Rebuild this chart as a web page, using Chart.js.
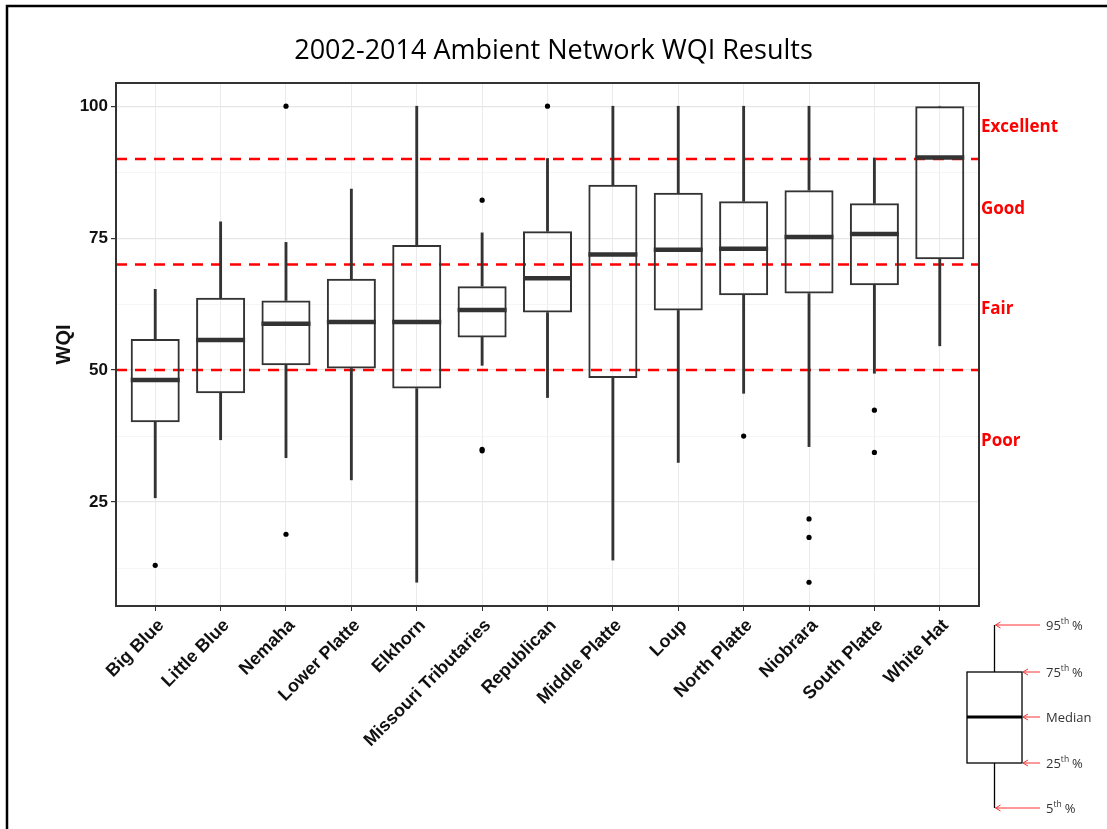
<!DOCTYPE html>
<html>
<head>
<meta charset="utf-8">
<script src="https://cdn.jsdelivr.net/npm/chart.js@4.4.1/dist/chart.umd.min.js"></script>
<style>
  html, body { margin: 0; padding: 0; background: #fff; }
  canvas { display: block; }
</style>
</head>
<body>
<canvas id="wqiChart" width="1107" height="829"></canvas>
<script>
const categories = ['Big Blue', 'Little Blue', 'Nemaha', 'Lower Platte', 'Elkhorn', 'Missouri Tributaries',
  'Republican', 'Middle Platte', 'Loup', 'North Platte', 'Niobrara', 'South Platte', 'White Hat'];

// box plot stats
const whiskerLow = [25.8, 36.8, 33.4, 29.2, 9.8, 50.9, 44.8, 14.0, 32.5, 45.6, 35.5, 49.4, 54.6];
const q1 = [40.1, 45.6, 50.9, 50.3, 46.5, 56.2, 60.9, 48.5, 61.3, 64.2, 64.5, 66.1, 71.0];
const medians = [48.1, 55.7, 58.8, 59.1, 59.1, 61.4, 67.4, 71.9, 72.8, 73.0, 75.2, 75.8, 90.3];
const q3 = [55.9, 63.7, 63.2, 67.3, 73.7, 65.9, 76.3, 85.1, 83.6, 82.0, 84.1, 81.6, 100];
const whiskerHigh = [65.3, 78.1, 74.2, 84.3, 100, 76.0, 90.1, 100, 100, 100, 100, 90.2, 100];

// outliers: category index + value
const outlierCat = [0, 2, 2, 5, 5, 5, 6, 9, 10, 10, 10, 11, 11];
const outlierVal = [13.0, 100, 18.9, 82.2, 35.0, 34.7, 100, 37.5, 21.8, 18.3, 9.8, 42.4, 34.4];

const yTicks = [12.5, 25, 37.5, 50, 62.5, 75, 87.5, 100];
const thresholds = [50, 70, 90];
const classNames = ['Excellent', 'Good', 'Fair', 'Poor'];
const classPos = [96, 80.5, 61.5, 36.5];
const legendNames = ['95th %', '75th %', 'Median', '25th %', '5th %'];

const boxColor = '#333333';
const catX = categories.map((c, i) => i + 1);

const decorations = {
  id: 'decorations',
  beforeDatasetsDraw(chart) {
    const {ctx, chartArea: a, scales: {y}} = chart;
    ctx.save();
    ctx.beginPath();
    ctx.rect(a.left, a.top, a.right - a.left, a.bottom - a.top);
    ctx.clip();
    ctx.strokeStyle = '#ff0000';
    ctx.lineWidth = 2.5;
    ctx.setLineDash([11, 8]);
    thresholds.forEach(v => {
      const py = y.getPixelForValue(v);
      ctx.beginPath();
      ctx.moveTo(a.left, py);
      ctx.lineTo(a.right, py);
      ctx.stroke();
    });
    ctx.restore();
  },
  afterDatasetsDraw(chart) {
    const {ctx, chartArea: a} = chart;
    ctx.save();
    ctx.strokeStyle = '#333';
    ctx.lineWidth = 2;
    ctx.strokeRect(a.left, a.top, a.right - a.left, a.bottom - a.top);
    ctx.restore();
  },
  afterDraw(chart) {
    const {ctx, chartArea: a, scales: {y}} = chart;
    ctx.save();
    // outer frame
    ctx.strokeStyle = '#000';
    ctx.lineWidth = 2.5;
    ctx.beginPath();
    ctx.moveTo(7, chart.height);
    ctx.lineTo(7, 6);
    ctx.lineTo(chart.width, 6);
    ctx.stroke();

    // class labels on the right
    ctx.fillStyle = '#ff0000';
    ctx.font = 'bold 17px "Open Sans"';
    ctx.textBaseline = 'middle';
    ctx.textAlign = 'left';
    classNames.forEach((t, i) => ctx.fillText(t, a.right + 2, y.getPixelForValue(classPos[i])));

    // box plot key
    const bx = a.right - 12, bw = 55, cx = bx + bw / 2;
    const ys = [a.bottom + 19, a.bottom + 66, a.bottom + 111, a.bottom + 157, a.bottom + 202];
    ctx.strokeStyle = '#000';
    ctx.lineWidth = 1.3;
    ctx.beginPath();
    ctx.moveTo(cx, ys[0]); ctx.lineTo(cx, ys[1]);
    ctx.moveTo(cx, ys[3]); ctx.lineTo(cx, ys[4]);
    ctx.stroke();
    ctx.strokeRect(bx, ys[1], bw, ys[3] - ys[1]);
    ctx.lineWidth = 3;
    ctx.beginPath();
    ctx.moveTo(bx, ys[2]); ctx.lineTo(bx + bw, ys[2]);
    ctx.stroke();

    ctx.strokeStyle = '#ff3030';
    ctx.lineWidth = 1;
    const tipX = [cx + 1, bx + bw + 1, bx + bw + 1, bx + bw + 1, cx + 1];
    ys.forEach((py, i) => {
      ctx.beginPath();
      ctx.moveTo(a.right + 61, py);
      ctx.lineTo(tipX[i], py);
      ctx.moveTo(tipX[i] + 5, py - 3);
      ctx.lineTo(tipX[i], py);
      ctx.lineTo(tipX[i] + 5, py + 3);
      ctx.stroke();
    });

    ctx.fillStyle = '#333';
    ctx.textAlign = 'left';
    ctx.textBaseline = 'middle';
    legendNames.forEach((t, i) => {
      const tx = a.right + 67;
      const m = t.match(/^(\d+)th (%)$/);
      if (m) {
        ctx.font = '13px "Open Sans"';
        ctx.fillText(m[1], tx, ys[i] + 1);
        let w = ctx.measureText(m[1]).width;
        ctx.font = '8.5px "Open Sans"';
        ctx.fillText('th', tx + w, ys[i] - 3);
        w += ctx.measureText('th').width + 3;
        ctx.font = '13px "Open Sans"';
        ctx.fillText(m[2], tx + w, ys[i] + 1);
      } else {
        ctx.font = '13px "Open Sans"';
        ctx.fillText(t, tx, ys[i] + 1);
      }
    });
    ctx.restore();
  }
};

const ctx = document.getElementById('wqiChart').getContext('2d');

new Chart(ctx, {
  type: 'bar',
  data: {
    datasets: [
      {
        type: 'line',
        label: 'outliers',
        data: outlierCat.map((c, i) => ({x: c + 1, y: outlierVal[i]})),
        showLine: false,
        pointRadius: 2.6,
        pointBackgroundColor: '#000',
        pointBorderWidth: 0,
        order: 0
      },
      {
        type: 'line',
        label: 'median',
        data: catX.map((x, i) => ({x: x, y: medians[i]})),
        showLine: false,
        pointStyle: 'line',
        pointRadius: 24.5,
        pointBorderWidth: 4.5,
        pointBorderColor: boxColor,
        order: 1
      },
      {
        label: 'box',
        data: catX.map((x, i) => ({x: x, y: [q1[i], q3[i]]})),
        backgroundColor: 'rgba(255,255,255,0)',
        borderColor: boxColor,
        borderWidth: 2,
        borderSkipped: false,
        barPercentage: 0.75,
        categoryPercentage: 1,
        grouped: false,
        order: 2
      },
      {
        label: 'upper whisker',
        data: catX.map((x, i) => ({x: x, y: [q3[i], whiskerHigh[i]]})),
        backgroundColor: boxColor,
        borderWidth: 0,
        barThickness: 2.2,
        grouped: false,
        order: 3
      },
      {
        label: 'lower whisker',
        data: catX.map((x, i) => ({x: x, y: [whiskerLow[i], q1[i]]})),
        backgroundColor: boxColor,
        borderWidth: 0,
        barThickness: 2.2,
        grouped: false,
        order: 3
      }
    ]
  },
  options: {
    responsive: false,
    animation: false,
    events: [],
    layout: { padding: 0 },
    plugins: {
      legend: { display: false },
      tooltip: { enabled: false },
      title: {
        display: true,
        text: '2002-2014 Ambient Network WQI Results',
        color: '#000',
        font: { family: '"Open Sans"', size: 27, weight: 'normal' },
        padding: { top: 35, bottom: 15.6 }
      }
    },
    scales: {
      x: {
        type: 'linear',
        min: 0.4,
        max: 13.6,
        offset: false,
        afterBuildTicks: s => { s.ticks = catX.map(v => ({value: v})); },
        afterFit: s => { s.height = 223; },
        grid: { color: '#ebebeb', lineWidth: 1, tickColor: '#333', tickLength: 5, offset: false },
        border: { display: false },
        ticks: {
          autoSkip: false,
          minRotation: 45,
          maxRotation: 45,
          padding: 4,
          labelOffset: 6,
          color: '#111',
          font: { family: '"Liberation Sans", Arial', size: 18, weight: 'bold' },
          callback: v => categories[v - 1]
        }
      },
      y: {
        min: 5.3,
        max: 104.4,
        afterBuildTicks: s => { s.ticks = yTicks.map(v => ({value: v})); },
        afterFit: s => { s.width = 116; },
        grid: {
          color: c => c.tick && c.tick.value % 25 === 0 ? '#e6e6e6' : '#f3f3f3',
          lineWidth: c => c.tick && c.tick.value % 25 === 0 ? 1.2 : 0.8,
          tickColor: c => c.tick && c.tick.value % 25 === 0 ? '#333' : 'rgba(0,0,0,0)',
          tickLength: 5
        },
        border: { display: false },
        title: {
          display: true,
          text: 'WQI',
          color: '#111',
          font: { family: '"Liberation Sans", Arial', size: 20, weight: 'bold' },
          padding: { top: 52, bottom: 0 }
        },
        ticks: {
          padding: 3,
          color: '#111',
          font: { family: '"Liberation Sans", Arial', size: 17, weight: 'bold' },
          callback: v => (v % 25 === 0 ? String(v) : '')
        }
      },
      // empty right-hand axis that only reserves room for the class labels and key
      yRight: {
        position: 'right',
        min: 0,
        max: 1,
        afterFit: s => { s.width = 128; },
        grid: { display: false },
        border: { display: false },
        ticks: { display: false }
      }
    }
  },
  plugins: [decorations]
});
</script>
</body>
</html>
